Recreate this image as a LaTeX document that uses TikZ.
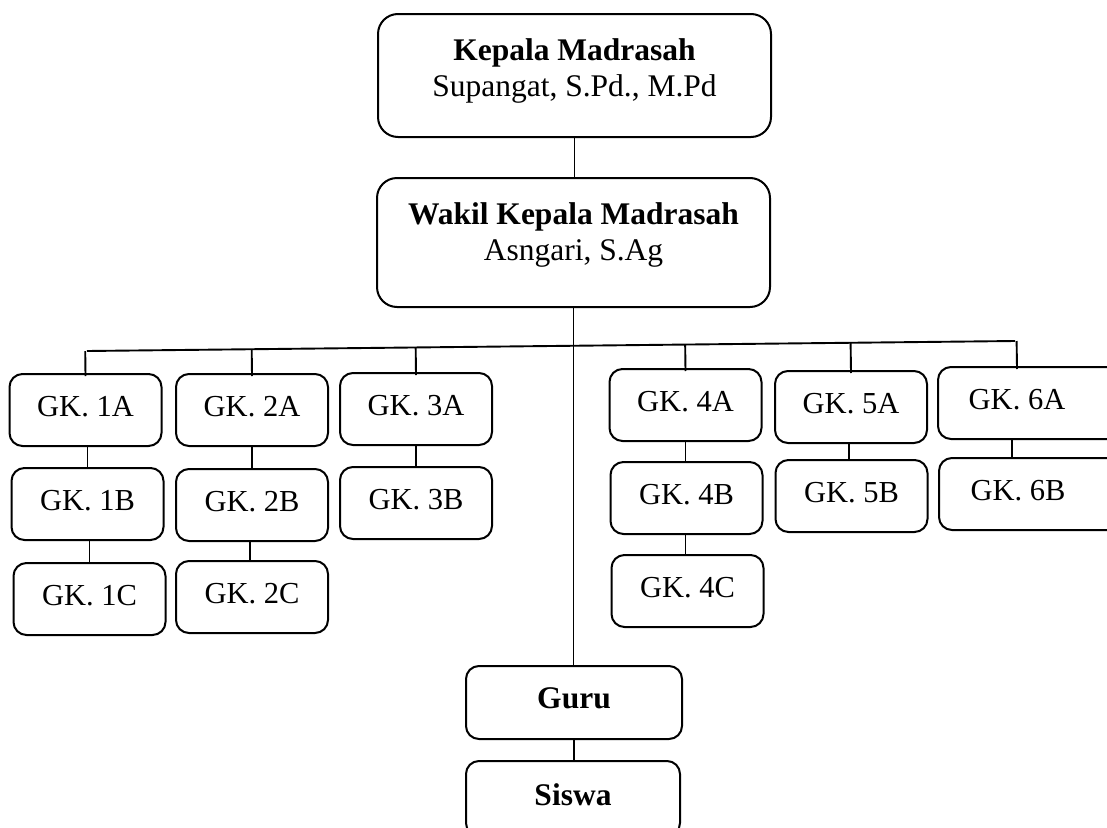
\documentclass[tikz,border=0pt]{standalone}
\usepackage{fontspec}
\setmainfont{Liberation Serif}
\usetikzlibrary{calc}
\tikzset{
  box/.style={draw, line width=2pt, inner sep=0pt, anchor=north, align=center},
  gk/.style={box, rounded corners=13pt, minimum width=152pt, minimum height=72pt,
    text height=42pt, text depth=30pt, font=\fontsize{30.5}{36}\selectfont},
  head/.style={box, rounded corners=20pt, minimum width=393pt,
    font=\fontsize{31.5}{36}\selectfont},
  low/.style={box, rounded corners=13pt, minimum height=73pt,
    font=\fontsize{31.5}{36}\selectfont\bfseries},
  link/.style={line width=1.9pt}
}
\begin{document}
\begin{tikzpicture}[x=1pt,y=-1pt]
\useasboundingbox (0,0) rectangle (1107,827);
\clip (0,0) rectangle (1107,827);
% top
\node[head, minimum height=123pt, text height=82pt, text depth=41pt] (kepala) at (574.5,13)
  {\textbf{Kepala Madrasah}\\Supangat, S.Pd., M.Pd};
\node[head, minimum height=129pt, text height=82pt, text depth=47pt] (wakil) at (573.5,177)
  {\textbf{Wakil Kepala Madrasah}\\Asngari, S.Ag};
% columns
\node[gk] (b1a) at (85.5,373) {GK. 1A};
\node[gk] (b1b) at (87.5,467) {GK. 1B};
\node[gk] (b1c) at (89.5,562) {GK. 1C};
\node[gk] (b2a) at (252,373) {GK. 2A};
\node[gk] (b2b) at (252,468) {GK. 2B};
\node[gk] (b2c) at (252,560) {GK. 2C};
\node[gk] (b3a) at (416,372) {GK. 3A};
\node[gk] (b3b) at (416,466) {GK. 3B};
\node[gk] (b4a) at (685.5,368) {GK. 4A};
\node[gk] (b4b) at (686.5,461) {GK. 4B};
\node[gk] (b4c) at (687.5,554) {GK. 4C};
\node[gk] (b5a) at (851,370) {GK. 5A};
\node[gk] (b5b) at (851.5,459) {GK. 5B};
\node[gk, anchor=north west, minimum width=190pt] (b6a) at (937,366) {GK. 6A\hspace*{32pt}};
\node[gk, anchor=north west, minimum width=190pt] (b6b) at (938,457) {GK. 6B\hspace*{32pt}};
% bottom
\node[low, minimum width=216pt, text height=42pt, text depth=31pt] (guru) at (574,665) {Guru};
\node[low, minimum width=214pt, minimum height=75pt, text height=44pt, text depth=31pt] (siswa) at (573,760) {Siswa};
% connectors
\draw[link] (kepala.south) -- (kepala.south |- wakil.north);
\draw[link] (wakil.south) -- (wakil.south |- guru.north);
\draw[link] (guru.south) -- (guru.south |- siswa.north);
\coordinate (busL) at (87,351);
\coordinate (busR) at (1015,341);
\draw[link] (busL) -- (busR);
\foreach \n in {b1a,b2a,b3a,b4a,b5a}{
  \draw[link] ([yshift=-3pt]\n.north) -- ($(busL)!([yshift=-3pt]\n.north)!(busR)$);
}
\draw[link] ([xshift=-16pt,yshift=-3pt]b6a.north) -- ($(busL)!([xshift=-16pt,yshift=-3pt]b6a.north)!(busR)$);
\draw[link] ([xshift=2pt]b1a.south) -- ([xshift=2pt]b1a.south |- b1b.north);
\draw[link] ([xshift=2pt]b1b.south) -- ([xshift=2pt]b1b.south |- b1c.north);
\draw[link] (b2a.south) -- (b2a.south |- b2b.north);
\draw[link] ([xshift=-2pt]b2b.south) -- ([xshift=-2pt]b2b.south |- b2c.north);
\draw[link] (b3a.south) -- (b3a.south |- b3b.north);
\draw[link] (b4a.south) -- (b4a.south |- b4b.north);
\draw[link] ([xshift=-1pt]b4b.south) -- ([xshift=-1pt]b4b.south |- b4c.north);
\draw[link] ([xshift=-2pt]b5a.south) -- ([xshift=-2pt]b5a.south |- b5b.north);
\draw[link] ([xshift=-21pt]b6a.south) -- ([xshift=-21pt]b6a.south |- b6b.north);
\end{tikzpicture}
\end{document}
